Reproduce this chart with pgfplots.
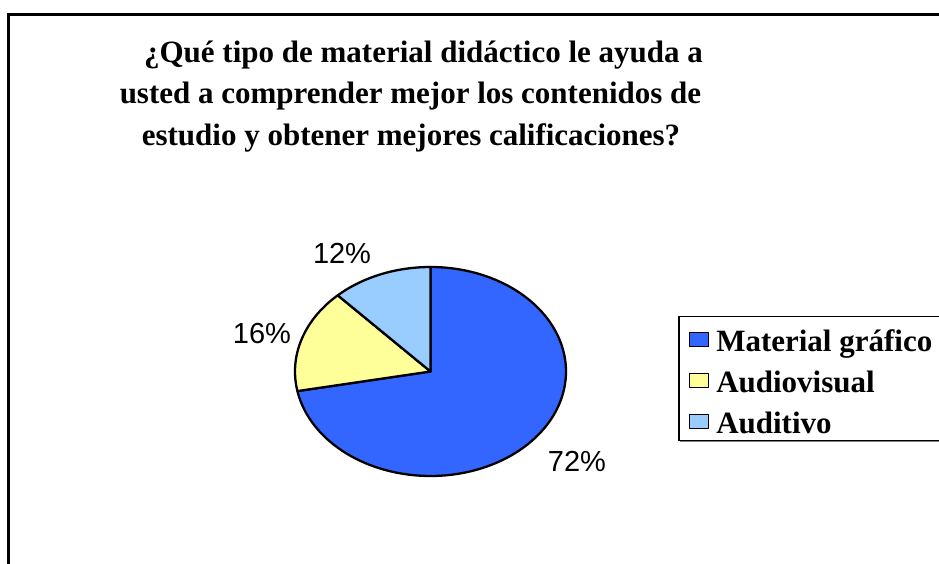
\documentclass[border=0pt]{standalone}
\usepackage{pgfplots}
\pgfplotsset{compat=1.18}
\usepackage{fontspec}
\setmainfont{Liberation Serif}
\newfontfamily\arial{Liberation Sans}
\definecolor{sliceA}{HTML}{3366FF}
\definecolor{sliceB}{HTML}{FFFF99}
\definecolor{sliceC}{HTML}{99CCFF}
% shares (percent)
\def\vA{72}\def\vB{16}\def\vC{12}
\begin{document}
\begin{tikzpicture}
\begin{scope}[x=1bp,y=1bp]
\draw[line width=3bp] (8.3,-20) -- (8.3,549.3) -- (990,549.3);
\node[font=\fontsize{31bp}{37bp}\selectfont\bfseries, anchor=base, inner sep=0pt] at (423.5,501) {¿Qué tipo de material didáctico le ayuda a};
\node[font=\fontsize{31bp}{37bp}\selectfont\bfseries, anchor=base, inner sep=0pt] at (410.5,460) {usted a comprender mejor los contenidos de};
\node[font=\fontsize{31bp}{37bp}\selectfont\bfseries, anchor=base, inner sep=0pt] at (411,418) {estudio y obtener mejores calificaciones?};
% legend shadow
\draw[line width=2.5bp, black!50] (680,123.5) -- (990,123.5);
\end{scope}
\pgfmathsetmacro\aA{90}
\pgfmathsetmacro\aB{90-3.6*\vA}
\pgfmathsetmacro\aC{\aB-3.6*\vB}
\pgfmathsetmacro\aD{\aC-3.6*\vC}
\begin{axis}[at={(430.5bp,192.5bp)}, anchor=origin, width=271bp, height=209bp, scale only axis,
  xmin=-1, xmax=1, ymin=-1, ymax=1, axis lines=none, clip=false,
  legend style={at={(1.4133,0.7656)}, anchor=north west, draw=black, line width=1.5bp, fill=white,
    inner xsep=10bp, inner ysep=5bp, row sep=9bp, column sep=7bp,
    font=\fontsize{31bp}{37bp}\selectfont\bfseries,
    nodes={inner sep=0pt, text height=30bp, text depth=2bp, anchor=base west}},
  legend cell align=left]
\addplot[draw=black, line width=2.3bp, line join=round, fill=sliceA, domain=\aB:\aA, samples=150, variable=\t,
  legend image code/.code={\draw[fill=sliceA, draw=black, line width=1.5bp] (0bp,5bp) rectangle (19bp,19bp);}]
  ({cos(t)},{sin(t)}) -- (axis cs:0,0) -- cycle;
\addlegendentry{Material gráfico\hspace{30bp}}
\addplot[draw=black, line width=2.3bp, line join=round, fill=sliceB, domain=\aC:\aB, samples=60, variable=\t,
  legend image code/.code={\draw[fill=sliceB, draw=black, line width=1.5bp] (0bp,5bp) rectangle (19bp,19bp);}]
  ({cos(t)},{sin(t)}) -- (axis cs:0,0) -- cycle;
\addlegendentry{Audiovisual}
\addplot[draw=black, line width=2.3bp, line join=round, fill=sliceC, domain=\aD:\aC, samples=50, variable=\t,
  legend image code/.code={\draw[fill=sliceC, draw=black, line width=1.5bp] (0bp,5bp) rectangle (19bp,19bp);}]
  ({cos(t)},{sin(t)}) -- (axis cs:0,0) -- cycle;
\addlegendentry{Auditivo}
\node[font=\arial\fontsize{29bp}{34bp}\selectfont, anchor=base, inner sep=0pt] at (axis cs:1.081,-0.959) {72\%};
\node[font=\arial\fontsize{29bp}{34bp}\selectfont, anchor=base, inner sep=0pt] at (axis cs:-1.244,0.270) {16\%};
\node[font=\arial\fontsize{29bp}{34bp}\selectfont, anchor=base, inner sep=0pt] at (axis cs:-0.653,1.038) {12\%};
\end{axis}
\pgfresetboundingbox
\path[use as bounding box] (0bp,0bp) rectangle (939bp,564bp);
\end{tikzpicture}
\end{document}
